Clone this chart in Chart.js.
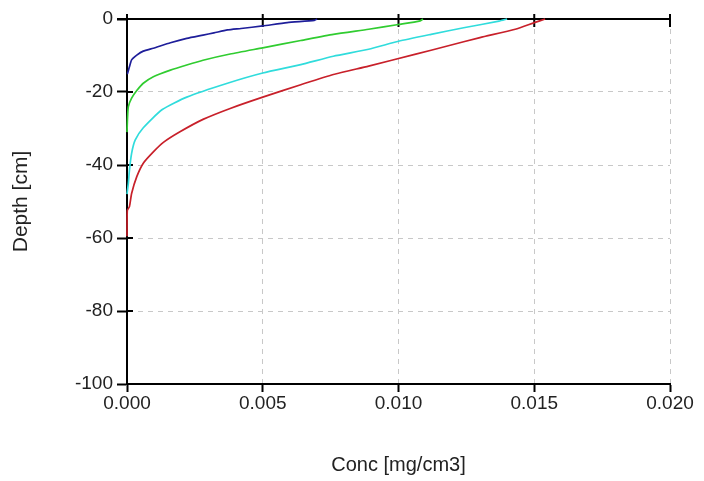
<!DOCTYPE html>
<html>
<head>
<meta charset="utf-8">
<script src="https://cdn.jsdelivr.net/npm/chart.js@4/dist/chart.umd.min.js"></script>
<style>
  html, body { margin: 0; padding: 0; background: #fff; }
  #wrap { width: 704px; height: 481px; }
</style>
</head>
<body>
<div id="wrap"><canvas id="profileChart"></canvas></div>
<script>
// Concentration profiles (conc in mg/cm3, depth in cm)
const xTicks = [0, 0.005, 0.010, 0.015, 0.020];
const yTicks = [0, -20, -40, -60, -80, -100];

const blueDepth = [0, -0.4, -1, -1.9, -2.6, -3.0, -3.8, -4.4, -5.3, -6.5, -8.0, -8.8, -9.9, -11.2, -13.1, -14.9, -15];
const blueConc  = [0.0070, 0.0069, 0.0059, 0.0050, 0.0042, 0.0037, 0.0032, 0.0028, 0.0022, 0.0016, 0.00097, 0.0006, 0.00036, 0.00017, 0.00009, 0.00002, 0];

const greenDepth = [0, -0.5, -1.5, -2.8, -4.2, -5.9, -7.9, -9.6, -11.3, -12.6, -14, -15.8, -17.6, -19.6, -21.7, -24, -27, -31];
const greenConc  = [0.0109, 0.0108, 0.0100, 0.0089, 0.0076, 0.0064, 0.0050, 0.0038, 0.0028, 0.0022, 0.0016, 0.00097, 0.0006, 0.00036, 0.00017, 0.00005, 0.00002, 0];

const cyanDepth = [0, -0.6, -2.4, -4.2, -6.1, -8.3, -10.2, -12.5, -14.8, -17.6, -21.4, -24.8, -29.8, -33.2, -36.8, -41.4, -45, -48];
const cyanConc  = [0.0140, 0.0137, 0.0124, 0.0112, 0.0100, 0.0089, 0.0076, 0.0064, 0.0050, 0.0037, 0.0022, 0.0013, 0.0006, 0.0003, 0.00017, 0.00009, 0.00005, 0];

const redDepth = [0, -1, -2.8, -5.1, -7.4, -9.7, -12.9, -15.2, -18, -21.4, -24.5, -27.5, -30.9, -33.8, -36.4, -39.5, -43.2, -47.8, -51.4, -52.5, -59.5];
const redConc  = [0.0154, 0.0150, 0.0143, 0.0130, 0.0118, 0.0106, 0.0089, 0.0076, 0.0064, 0.0050, 0.0038, 0.0028, 0.00195, 0.00134, 0.00097, 0.0006, 0.00036, 0.00017, 0.00009, 0.00001, 0];

const pts = (xs, ys) => xs.map((v, i) => ({ x: v, y: ys[i] }));
const family = '"Liberation Sans", Arial, sans-serif';
const tickFont = { family, size: 19 };

// top axis line and the inner half of the tick marks
const axisExtras = {
  id: 'axisExtras',
  beforeDatasetsDraw(chart) {
    const { ctx, chartArea: a, scales: { x, y } } = chart;
    ctx.save();
    ctx.strokeStyle = '#000'; ctx.lineWidth = 2;
    ctx.beginPath();
    ctx.moveTo(a.left - 10, a.top); ctx.lineTo(a.right, a.top);
    x.ticks.forEach(t => { const px = x.getPixelForValue(t.value); ctx.moveTo(px, a.top - 5); ctx.lineTo(px, a.top + 8); });
    y.ticks.forEach(t => { const py = y.getPixelForValue(t.value); ctx.moveTo(a.left, py); ctx.lineTo(a.left + 6, py); });
    ctx.stroke();
    ctx.restore();
  }
};

const line = (data, color) => ({ data, borderColor: color, backgroundColor: color, showLine: true, pointRadius: 0, borderWidth: 1.7, tension: 0.2, clip: 4 });

new Chart(document.getElementById('profileChart'), {
  type: 'scatter',
  data: {
    datasets: [
      line(pts(blueConc, blueDepth), '#1e1e9a'),
      line(pts(greenConc, greenDepth), '#30cc30'),
      line(pts(cyanConc, cyanDepth), '#30dcdc'),
      line(pts(redConc, redDepth), '#c8202a')
    ]
  },
  options: {
    responsive: true, maintainAspectRatio: false, animation: false,
    layout: { padding: { top: 19, right: 34, left: 0, bottom: 0 } },
    plugins: { legend: { display: false }, tooltip: { enabled: false } },
    scales: {
      x: {
        type: 'linear', min: 0, max: 0.02,
        afterBuildTicks: s => { s.ticks = xTicks.map(v => ({ value: v })); },
        afterFit: s => { s.height = 97; },
        ticks: { font: tickFont, color: '#222', padding: 0, maxRotation: 0, callback: v => v.toFixed(3) },
        grid: { color: '#c8c8c8', tickColor: '#000', tickLength: 8, tickWidth: 2, lineWidth: 1 },
        border: { color: '#000', width: 2, dash: [5, 5] },
        title: { display: true, text: 'Conc [mg/cm3]', font: { family, size: 20 }, color: '#222', padding: { top: 0, bottom: 4 } }
      },
      y: {
        type: 'linear', min: -100, max: 0,
        afterBuildTicks: s => { s.ticks = yTicks.map(v => ({ value: v })); },
        afterFit: s => { s.width = 127; },
        ticks: { font: tickFont, color: '#222', padding: 4 },
        grid: { color: '#c8c8c8', tickColor: '#000', tickLength: 10, tickWidth: 2, lineWidth: 1 },
        border: { color: '#000', width: 2, dash: [5, 5] },
        title: { display: true, text: 'Depth [cm]', font: { family, size: 21 }, color: '#222', padding: { top: 9, bottom: 0 } }
      }
    }
  },
  plugins: [axisExtras]
});
</script>
</body>
</html>
